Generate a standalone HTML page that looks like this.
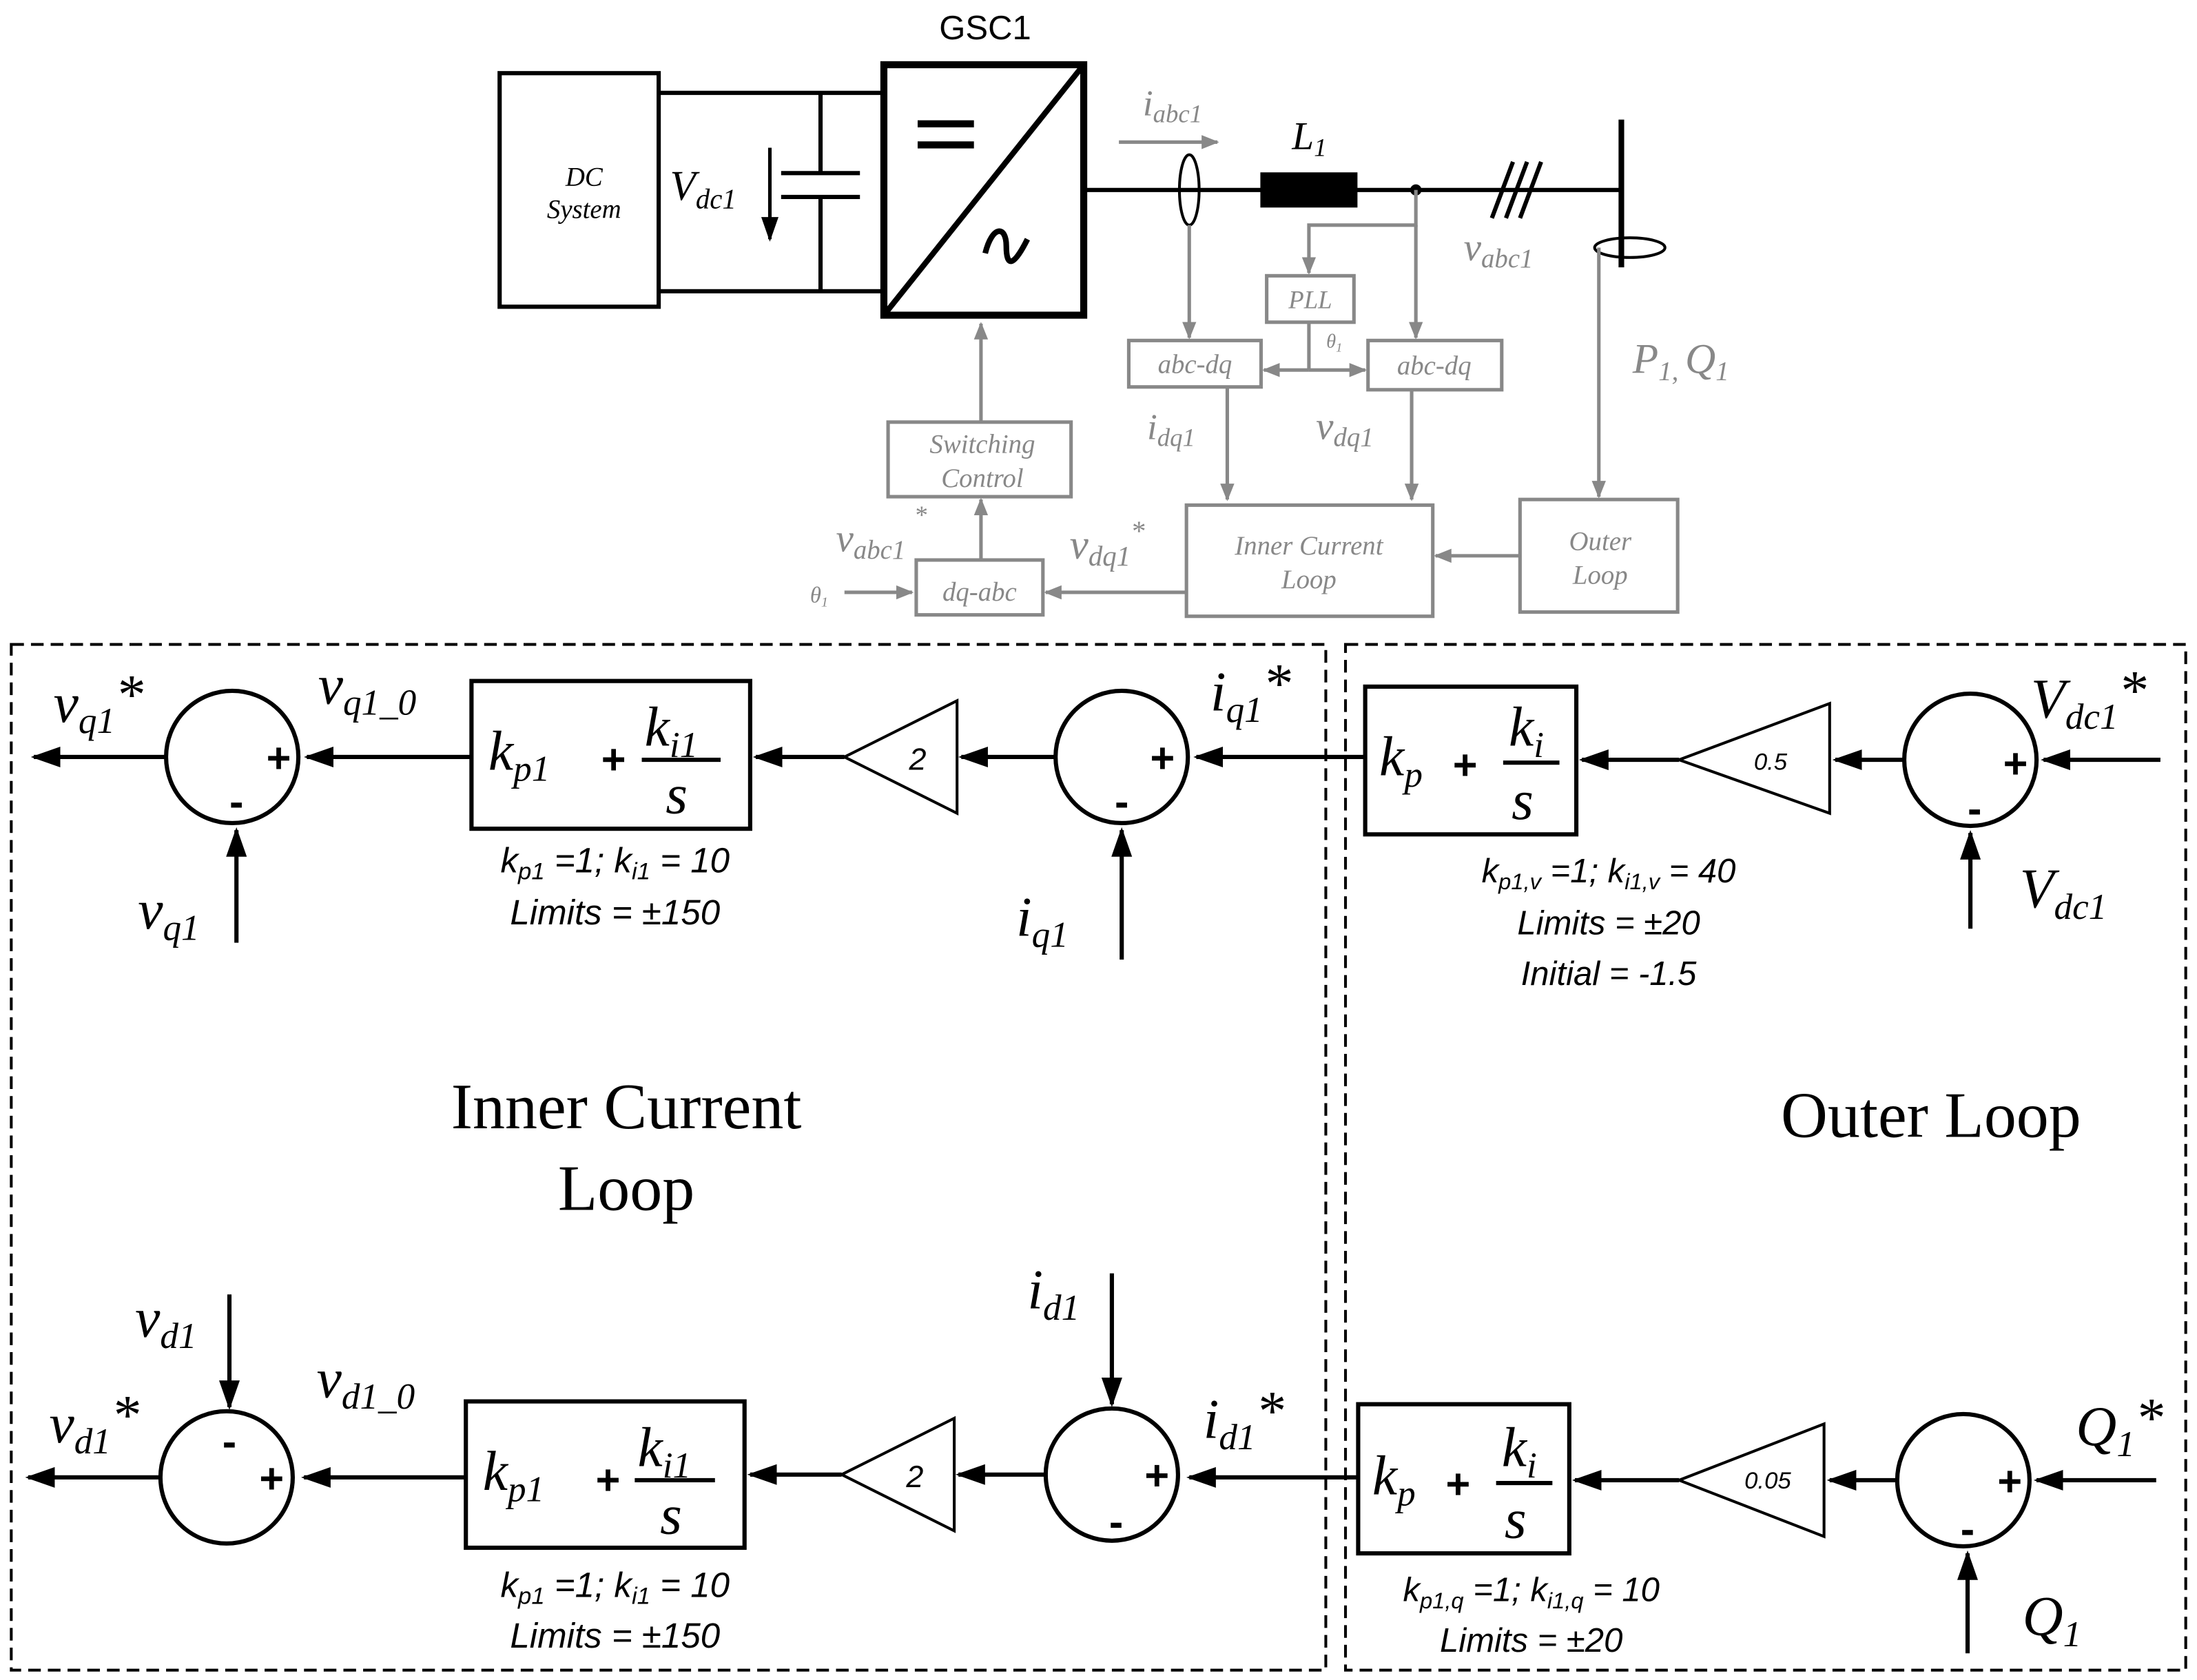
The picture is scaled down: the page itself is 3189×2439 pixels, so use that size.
<!DOCTYPE html>
<html><head><meta charset="utf-8"><style>html,body{margin:0;padding:0;background:#fff}svg{display:block}</style></head><body>
<svg width="3189" height="2439" viewBox="0 0 1561 1194" preserveAspectRatio="none" xmlns="http://www.w3.org/2000/svg">
<defs>
<marker id="a" viewBox="0 0 10 10" refX="9" refY="5" markerWidth="7" markerHeight="7" orient="auto" markerUnits="strokeWidth"><path d="M0,1.5 L10,5 L0,8.5 z" fill="#000"/></marker>
<marker id="g" viewBox="0 0 10 10" refX="9" refY="5" markerWidth="5" markerHeight="5" orient="auto" markerUnits="strokeWidth"><path d="M0,1 L10,5 L0,9 z" fill="#888"/></marker>
</defs>
<rect width="1561" height="1194" fill="#fff"/>
<g fill="none" stroke="#000" stroke-width="3">
<rect x="355" y="52" width="113" height="166"/>
<path d="M468 66H628M468 207H628M583 66V123M583 140V207M555 123H611M555 140H611"/>
<path d="M547 105V170" stroke-width="2.5" marker-end="url(#a)"/>
<rect x="628" y="46" width="142" height="178" stroke-width="5"/>
<path d="M628 224L770 46" stroke-width="4"/>
<path d="M652 88H692M652 103H692" stroke-width="5"/>
<path d="M700 180c5-20 15-20 15-5s5 15 15-5" stroke-width="4"/>
<path d="M770 135H1152"/>
<rect x="897" y="124" width="66" height="22" fill="#000"/>
<ellipse cx="845" cy="135" rx="7" ry="25" stroke-width="2"/>
<path d="M1060 155L1075 115M1070 155L1085 115M1080 155L1095 115" stroke-width="3"/>
<path d="M1152 85V190" stroke-width="4"/>
<ellipse cx="1158" cy="176" rx="25" ry="7" stroke-width="2"/>
</g>
<circle cx="1006" cy="135" r="4" fill="#000"/>
<g font-family="Liberation Serif,serif" font-style="italic" fill="#000">
<text x="415" y="132" font-size="19" text-anchor="middle">DC</text>
<text x="415" y="155" font-size="19" text-anchor="middle">System</text>
<text x="476" y="142" font-size="30">V<tspan font-size="20" dy="6">dc1</tspan></text>
<text x="918" y="106" font-size="28">L<tspan font-size="18" dy="5">1</tspan></text>
</g>
<text x="700" y="28" font-family="Liberation Sans,sans-serif" font-size="24" text-anchor="middle">GSC1</text>
<g fill="none" stroke="#888" stroke-width="2.5">
<path d="M795 101H865" marker-end="url(#g)"/>
<path d="M845 160V240" marker-end="url(#g)"/>
<path d="M1006 135V160H930V194" marker-end="url(#g)"/>
<path d="M1006 160V240" marker-end="url(#g)"/>
<path d="M930 229V263"/>
<path d="M930 263H898" marker-end="url(#g)"/>
<path d="M930 263H970" marker-end="url(#g)"/>
<path d="M872 275V355" marker-end="url(#g)"/>
<path d="M1003 277V355" marker-end="url(#g)"/>
<path d="M1136 176V353" marker-end="url(#g)"/>
<path d="M1080 395H1020" marker-end="url(#g)"/>
<path d="M843 421H743" marker-end="url(#g)"/>
<path d="M600 421H648" marker-end="url(#g)"/>
<path d="M697 398V355" marker-end="url(#g)"/>
<path d="M697 300V230" marker-end="url(#g)"/>
<rect x="802" y="242" width="94" height="33"/>
<rect x="900" y="196" width="62" height="33"/>
<rect x="972" y="242" width="95" height="35"/>
<rect x="843" y="359" width="175" height="79"/>
<rect x="1080" y="355" width="112" height="80"/>
<rect x="651" y="398" width="90" height="39"/>
<rect x="631" y="300" width="130" height="53"/>
</g>
<g font-family="Liberation Serif,serif" font-style="italic" fill="#888" text-anchor="middle">
<text x="812" y="82" font-size="26" text-anchor="start">i<tspan font-size="18" dy="5">abc1</tspan></text>
<text x="1040" y="185" font-size="28" text-anchor="start">v<tspan font-size="19" dy="5">abc1</tspan></text>
<text x="849" y="265" font-size="19">abc-dq</text>
<text x="1019" y="266" font-size="19">abc-dq</text>
<text x="931" y="219" font-size="18">PLL</text>
<text x="948" y="247" font-size="14">θ<tspan font-size="9" dy="3">1</tspan></text>
<text x="815" y="312" font-size="26" text-anchor="start">i<tspan font-size="18" dy="5">dq1</tspan></text>
<text x="935" y="312" font-size="28" text-anchor="start">v<tspan font-size="19" dy="5">dq1</tspan></text>
<text x="1160" y="265" font-size="30" text-anchor="start">P<tspan font-size="19" dy="5">1, </tspan><tspan dy="-5">Q</tspan><tspan font-size="19" dy="5">1</tspan></text>
<text x="930" y="394" font-size="19">Inner Current</text>
<text x="930" y="418" font-size="19">Loop</text>
<text x="1137" y="391" font-size="19">Outer</text>
<text x="1137" y="415" font-size="19">Loop</text>
<text x="696" y="427" font-size="19">dq-abc</text>
<text x="698" y="322" font-size="19">Switching</text>
<text x="698" y="346" font-size="19">Control</text>
<text x="582" y="428" font-size="16">θ<tspan font-size="10" dy="3">1</tspan></text>
<text x="594" y="392" font-size="28" text-anchor="start">v<tspan font-size="19" dy="5">abc1</tspan></text>
<text x="654" y="372" font-size="18">*</text>
<text x="760" y="397" font-size="30" text-anchor="start">v<tspan font-size="20" dy="5">dq1</tspan><tspan font-size="20" dy="-18">*</tspan></text>
</g>
<g fill="none" stroke="#000" stroke-width="2" stroke-dasharray="9,5">
<rect x="8" y="458" width="934" height="729"/>
<rect x="956" y="458" width="597" height="729"/>
</g>
<g fill="none" stroke="#000" stroke-width="3">
<circle cx="165" cy="538" r="47"/>
<circle cx="797" cy="538" r="47"/>
<circle cx="1400" cy="540" r="47"/>
<circle cx="161" cy="1050" r="47"/>
<circle cx="790" cy="1048" r="47"/>
<circle cx="1395" cy="1052" r="47"/>
<rect x="335" y="484" width="198" height="105"/>
<rect x="970" y="488" width="150" height="105"/>
<rect x="331" y="996" width="198" height="104"/>
<rect x="965" y="998" width="150" height="106"/>
<path d="M600 538L680 498V578z" stroke-width="2"/>
<path d="M1193 540L1300 500V578z" stroke-width="2"/>
<path d="M598 1048L678 1008V1088z" stroke-width="2"/>
<path d="M1193 1052L1296 1012V1092z" stroke-width="2"/>
<g marker-end="url(#a)">
<path d="M118 538H24"/>
<path d="M168 670V590"/>
<path d="M335 538H218"/>
<path d="M600 538H537"/>
<path d="M750 538H683"/>
<path d="M797 682V590"/>
<path d="M970 538H850"/>
<path d="M1193 540H1124"/>
<path d="M1352 540H1304"/>
<path d="M1535 540H1452"/>
<path d="M1400 660V592"/>
<path d="M114 1050H20"/>
<path d="M163 920V1000"/>
<path d="M331 1050H216"/>
<path d="M598 1048H533"/>
<path d="M743 1048H681"/>
<path d="M790 905V998"/>
<path d="M965 1050H845"/>
<path d="M1193 1052H1119"/>
<path d="M1348 1052H1300"/>
<path d="M1532 1052H1447"/>
<path d="M1398 1175V1104"/>
</g>
</g>
<g font-family="Liberation Sans,sans-serif" font-weight="bold" font-size="30" fill="#000" text-anchor="middle">
<text x="198" y="549">+</text><text x="168" y="580">-</text>
<text x="826" y="549">+</text><text x="797" y="580">-</text>
<text x="1432" y="553">+</text><text x="1403" y="585">-</text>
<text x="163" y="1035">-</text><text x="193" y="1061">+</text>
<text x="822" y="1059">+</text><text x="793" y="1092">-</text>
<text x="1428" y="1063">+</text><text x="1398" y="1097">-</text>
<text x="436" y="550">+</text><text x="432" y="1062">+</text>
<text x="1041" y="554">+</text><text x="1036" y="1065">+</text>
</g>
<g font-family="Liberation Sans,sans-serif" font-style="italic" fill="#000" text-anchor="middle">
<text x="652" y="547" font-size="22">2</text>
<text x="650" y="1057" font-size="22">2</text>
<text x="1258" y="547" font-size="17">0.5</text>
<text x="1256" y="1058" font-size="17">0.05</text>
<text x="437" y="620" font-size="25">k<tspan font-size="17" dy="5">p1</tspan><tspan dy="-5"> =1; k</tspan><tspan font-size="17" dy="5">i1</tspan><tspan dy="-5"> = 10</tspan></text>
<text x="437" y="657" font-size="25">Limits = ±150</text>
<text x="437" y="1135" font-size="25">k<tspan font-size="17" dy="5">p1</tspan><tspan dy="-5"> =1; k</tspan><tspan font-size="17" dy="5">i1</tspan><tspan dy="-5"> = 10</tspan></text>
<text x="437" y="1171" font-size="25">Limits = ±150</text>
<text x="1143" y="627" font-size="24">k<tspan font-size="16" dy="5">p1,v</tspan><tspan dy="-5"> =1; k</tspan><tspan font-size="16" dy="5">i1,v</tspan><tspan dy="-5"> = 40</tspan></text>
<text x="1143" y="664" font-size="24">Limits = ±20</text>
<text x="1143" y="700" font-size="24">Initial = -1.5</text>
<text x="1088" y="1138" font-size="24">k<tspan font-size="16" dy="5">p1,q</tspan><tspan dy="-5"> =1; k</tspan><tspan font-size="16" dy="5">i1,q</tspan><tspan dy="-5"> = 10</tspan></text>
<text x="1088" y="1174" font-size="24">Limits = ±20</text>
</g>
<g font-family="Liberation Serif,serif" font-size="46" fill="#000" text-anchor="middle">
<text x="445" y="802">Inner Current</text>
<text x="445" y="860">Loop</text>
<text x="1372" y="808">Outer Loop</text>
</g>
<g font-family="Liberation Serif,serif" font-style="italic" fill="#000">
<g font-size="40">
<text x="347" y="547">k<tspan font-size="26" dy="8">p1</tspan></text>
<text x="343" y="1059">k<tspan font-size="26" dy="8">p1</tspan></text>
<text x="980" y="551">k<tspan font-size="26" dy="8">p</tspan></text>
<text x="975" y="1062">k<tspan font-size="26" dy="8">p</tspan></text>
<text x="458" y="530">k<tspan font-size="26" dy="8">i1</tspan></text>
<text x="473" y="578">s</text>
<text x="453" y="1042">k<tspan font-size="26" dy="8">i1</tspan></text>
<text x="469" y="1090">s</text>
<text x="1072" y="530">k<tspan font-size="26" dy="8">i</tspan></text>
<text x="1074" y="582">s</text>
<text x="1067" y="1042">k<tspan font-size="26" dy="8">i</tspan></text>
<text x="1069" y="1093">s</text>
</g>
<path d="M456 540H512M451 1052H508M1068 542H1108M1063 1054H1103" stroke="#000" stroke-width="3"/>
<g font-size="40">
<text x="38" y="513">v<tspan font-size="26" dy="8">q1</tspan><tspan dy="-14">*</tspan></text>
<text x="98" y="660">v<tspan font-size="26" dy="8">q1</tspan></text>
<text x="226" y="500">v<tspan font-size="26" dy="8">q1_0</tspan></text>
<text x="860" y="505">i<tspan font-size="26" dy="8">q1</tspan><tspan dy="-14">*</tspan></text>
<text x="722" y="665">i<tspan font-size="26" dy="8">q1</tspan></text>
<text x="1443" y="510">V<tspan font-size="26" dy="8">dc1</tspan><tspan dy="-14">*</tspan></text>
<text x="1435" y="645">V<tspan font-size="26" dy="8">dc1</tspan></text>
<text x="35" y="1025">v<tspan font-size="26" dy="8">d1</tspan><tspan dy="-14">*</tspan></text>
<text x="96" y="950">v<tspan font-size="26" dy="8">d1</tspan></text>
<text x="225" y="993">v<tspan font-size="26" dy="8">d1_0</tspan></text>
<text x="855" y="1022">i<tspan font-size="26" dy="8">d1</tspan><tspan dy="-14">*</tspan></text>
<text x="730" y="930">i<tspan font-size="26" dy="8">d1</tspan></text>
<text x="1475" y="1027">Q<tspan font-size="26" dy="8">1</tspan><tspan dy="-14">*</tspan></text>
<text x="1437" y="1162">Q<tspan font-size="26" dy="8">1</tspan></text>
</g>
</g>
</svg>
</body></html>
